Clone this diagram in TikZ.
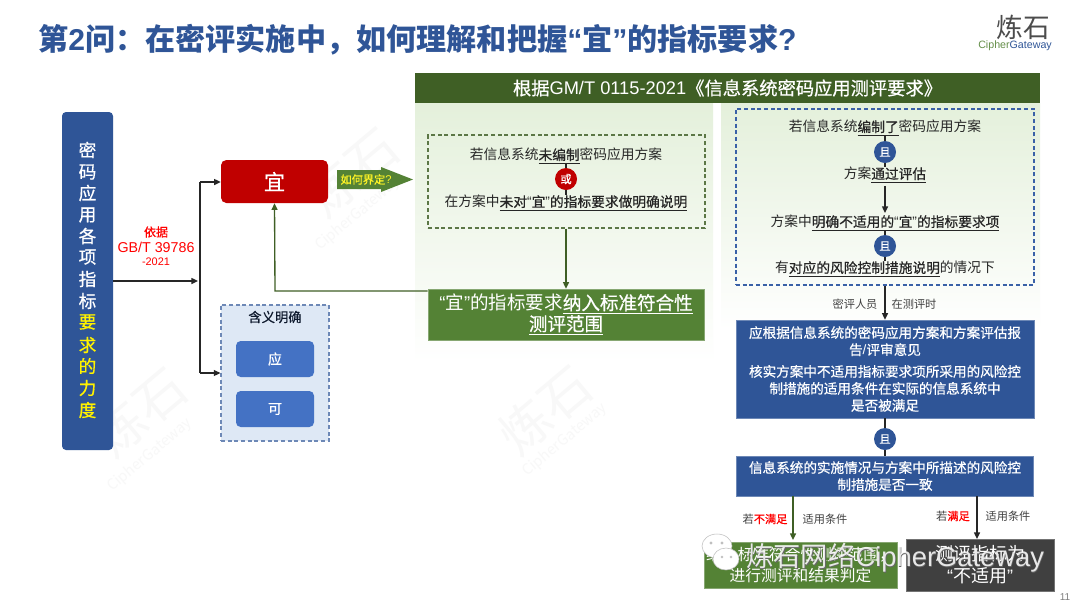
\documentclass[tikz,border=0pt]{standalone}
\usepackage{fontspec}
\setmainfont{Noto Sans CJK SC}
\newfontfamily\latf{Liberation Sans}
\newfontfamily\medf[FakeBold=0.7]{Noto Sans CJK SC}
\usetikzlibrary{arrows.meta,shapes.geometric,calc}
\definecolor{navy}{HTML}{2F5597}
\definecolor{titleblue}{HTML}{2F5597}
\definecolor{red1}{HTML}{C00000}
\definecolor{grn}{HTML}{548235}
\definecolor{dgrn}{HTML}{3F5F25}
\definecolor{paleg}{HTML}{E4F0DB}
\definecolor{pblue}{HTML}{DEE8F5}
\definecolor{mblue}{HTML}{4472C4}
\definecolor{ink}{HTML}{262626}
\definecolor{wm}{HTML}{F8F8F8}
\newcommand\fsz[1]{\fontsize{#1}{#1}\selectfont}
\newcommand\LQ{{\latf “}}
\newcommand\RQ{{\latf ”}}
\newcommand\ub[1]{\underline{\medf #1}}
\tikzset{
  x=0.75pt,y=-0.75pt,
  txt/.style={inner sep=0pt,text=ink,font=\fsz{10.3}},
  small/.style={inner sep=0pt,text=black!75,font=\fsz{8.4}},
  boxb/.style={inner sep=0pt,text=white,align=center,fill=navy,draw=navy!70,line width=0.4pt},
  rbox/.style={inner sep=0pt,rounded corners=3.5pt,text=white},
  circ/.style={circle,inner sep=0pt,minimum size=16.5pt,text=white,font=\fsz{8.5}\medf},
  conn/.style={draw=ink,line width=1pt},
  arr/.style={conn,-{Triangle[length=5pt,width=4.5pt]}},
  garr/.style={arr,draw=dgrn,-{Triangle[length=5pt,width=4.5pt,fill=dgrn]}},
  wmark/.style={inner sep=0pt,text=wm,rotate=40},
  dashbox/.style={inner sep=0pt,line width=0.85pt,dash pattern=on 3pt off 2pt},
}
\begin{document}
\begin{tikzpicture}
\useasboundingbox (0,0) rectangle (1080,608);
\fill[white] (0,0) rectangle (1080,608);
% panels
\shade[top color=paleg,bottom color=white] (415,103) rectangle (713,362);
\shade[top color=paleg,bottom color=white] (721,103) rectangle (1040,330);
% watermarks
\node[wmark,font=\fsz{38}] (wm1) at (352,172) {炼石};
\node[wmark,font=\fsz{11}] (wm1b) at (358,214) {CipherGateway};
\node[wmark,font=\fsz{38}] (wm2) at (140,412) {炼石};
\node[wmark,font=\fsz{11}] (wm2b) at (150,455) {CipherGateway};
\node[wmark,font=\fsz{38}] (wm3) at (545,410) {炼石};
\node[wmark,font=\fsz{11}] (wm3b) at (565,440) {CipherGateway};
% title and logo
\node[inner sep=0pt,anchor=west,text=titleblue,font=\fsz{22.6}\bfseries] (title) at (38,40)
  {第{\latf 2}问：在密评实施中，如何理解和把握\LQ 宜\RQ 的指标要求{\latf ?}};
\node[inner sep=0pt,text=black!70,font=\fsz{20}] (logo) at (1023,27) {炼石};
\node[inner sep=0pt,font=\latf\fsz{8}] (logob) at (1015,46) {\textcolor{grn!90}{Cipher}\textcolor{navy}{Gateway}};
% left bar
\node[rbox,fill=navy,minimum width=38.25pt,minimum height=253.5pt,rounded corners=3pt] (bar) at (87.5,281) {};
\foreach \ch/\yy/\cc in {密/150/white,码/172/white,应/193/white,用/215/white,各/236/white,项/257/white,指/279/white,标/301/white,要/322/yellow,求/345/yellow,的/366/yellow,力/388/yellow,度/410/yellow}
  \node[inner sep=0pt,text=\cc,font=\fsz{13.2}\medf] at (87.5,\yy) {\ch};
% 宜
\node[rbox,fill=red1,minimum width=80.25pt,minimum height=32.25pt,font=\fsz{16}\medf,rounded corners=4pt] (yi) at (274.5,181.5) {宜};
% 含义明确
\node[dashbox,draw=navy!70!white,fill=pblue,minimum width=81pt,minimum height=102pt] (clear) at (275,373) {};
\node[inner sep=0pt,text=black!70!navy,font=\fsz{10}\medf] (cleart) at (275,317) {含义明确};
\node[rbox,fill=mblue,minimum width=58.5pt,minimum height=27pt,font=\fsz{10.5}\medf] (ying) at (275,359) {应};
\node[rbox,fill=mblue,minimum width=58.5pt,minimum height=27pt,font=\fsz{10.5}\medf] (ke) at (275,409) {可};
% trunk
\coordinate (jn) at (200,281);
\coordinate (jt) at (200,182);
\coordinate (jb) at (200,373);
\draw[arr] (bar.east |- jn) -- (198,281);
\draw[conn] (jt) -- (jb);
\draw[arr] (jt) -- (yi.west |- jt);
\draw[arr] (jb) -- (clear.west |- jb);
\node[inner sep=0pt,text=red,font=\fsz{9}\medf] (yj) at (156,232) {依据};
\node[inner sep=0pt,text=red,font=\latf\fsz{10.7}] (gb) at (156,247) {GB/T 39786};
\node[inner sep=0pt,text=red,font=\latf\fsz{8.2}] (gby) at (156,262) {-2021};
% block arrow
\fill[grn] (337,170) -- (381,170) -- (381,167) -- (413,179.5) -- (381,192) -- (381,189) -- (337,189) -- cycle;
\node[inner sep=0pt,text=yellow!85!white,font=\fsz{8.4}\medf] (how) at (366,179.5) {如何界定{\latf ?}};
% header
\node[inner sep=0pt,fill=dgrn,minimum width=468.75pt,minimum height=22.5pt,text=white,font=\fsz{13.7}\medf] (hdr) at (727.5,88)
  {根据{\latf GM/T 0115-2021}《信息系统密码应用测评要求》};
% left condition
\node[dashbox,draw=dgrn!85,minimum width=207.75pt,minimum height=69.75pt] (lbox) at (566.5,181.5) {};
\node[txt] (l1) at (566,156) {若信息系统\ub{未编制}密码应用方案};
\node[txt] (l2) at (566,203) {在方案中\ub{未对\LQ 宜\RQ 的指标要求做明确说明}};
\draw[conn] (l1.south) -- (l2.north);
\node[circ,fill=red1] (or) at (566,179) {或};
\node[inner sep=0pt,fill=grn,draw=grn!70,line width=0.4pt,minimum width=207pt,minimum height=38.25pt,text=white,align=center,font=\fontsize{13.9}{15.75pt}\selectfont] (res) at (566,314.5)
  {\LQ 宜\RQ 的指标要求\ub{纳入标准符合性}\\\ub{测评范围}};
\draw[garr] (lbox.south -| res) -- (res.north);
\coordinate (ret) at (275,291);
\draw[garr] (res.west |- ret) -- (ret) -- (yi.south);
% right condition
\node[dashbox,draw=mblue!85!black,minimum width=223.5pt,minimum height=132pt] (rbox) at (885,197) {};
\node[txt] (r1) at (885,128) {若信息系统\ub{编制了}密码应用方案};
\node[txt] (r2) at (885,175) {方案\ub{通过评估}};
\node[txt] (r3) at (885,223) {方案中\ub{明确不适用的\LQ 宜\RQ 的指标要求项}};
\node[txt] (r4) at (885,269) {有\ub{对应的风险控制措施说明}的情况下};
\draw[conn] (r1.south) -- (r2.north);
\draw[arr] ($(r2.south)+(0,3)$) -- ($(r3.north)+(0,-2)$);
\draw[conn] (r3.south) -- (r4.north);
\node[circ,fill=navy] (and1) at (885,152) {且};
\node[circ,fill=navy] (and2) at (885,246) {且};
% blue boxes
\node[boxb,minimum width=223.5pt,minimum height=73.5pt,font=\fontsize{10.2}{12.75pt}\selectfont\medf] (b1) at (885,369)
  {应根据信息系统的密码应用方案和方案评估报\\告{\latf /}评审意见\\[3.6pt]核实方案中不适用指标要求项所采用的风险控\\制措施的适用条件在实际的信息系统中\\是否被满足};
\node[boxb,minimum width=223pt,minimum height=30pt,font=\fontsize{10.2}{12.75pt}\selectfont\medf] (b2) at (885,476)
  {信息系统的实施情况与方案中所描述的风险控\\制措施是否一致};
\draw[arr] ($(r4.south)+(0,9)$) -- (b1.north);
\node[small] (s1) at (855,304) {密评人员};
\node[small] (s2) at (914,304) {在测评时};
\draw[conn] (b1.south) -- (b2.north);
\node[circ,fill=navy] (and3) at (885,439) {且};
% outcomes
\node[inner sep=0pt,fill=grn,draw=grn!70,line width=0.4pt,minimum width=144.75pt,minimum height=34.5pt,text=white,align=center,font=\fontsize{11.8}{15.5pt}\selectfont] (out1) at (800.5,565)
  {纳入标准符合性测评范围，\\进行测评和结果判定};
\node[inner sep=0pt,fill=black!75,draw=black!55,line width=0.4pt,minimum width=111pt,minimum height=39pt,text=white,align=center,font=\fontsize{13.5}{16.5pt}\selectfont] (out2) at (980,565)
  {测评指标为\\\LQ 不适用\RQ};
\coordinate (o1) at (793,540);
\coordinate (o2) at (977,539);
\draw[garr] (b2.south -| o1) -- (o1);
\draw[arr] (b2.south -| o2) -- (o2);
\node[small] (c1) at (765,519) {若\textcolor{red}{\medf 不满足}};
\node[small] (c2) at (825,519) {适用条件};
\node[small] (c3) at (953,516) {若\textcolor{red}{\medf 满足}};
\node[small] (c4) at (1008,516) {适用条件};
\node[inner sep=0pt,text=black!50,font=\latf\fsz{7.5}] (pg) at (1065,597) {11};
% overlay signature
\fill[white,draw=black!25,line width=0.4pt] (717,546) ellipse (15 and 12);
\fill[white,draw=black!25,line width=0.4pt] (726,559) ellipse (13 and 11);
\fill[black!25] (711,543) circle (1.6) (722,543) circle (1.6) (722,557) circle (1.4) (731,557) circle (1.4);
\node[inner sep=0pt,anchor=west,text=black!60,font=\fontsize{20.5}{20.5}\selectfont] (sigs) at (746.6,559)
  {炼石网络{\latf CipherGateway}};
\node[inner sep=0pt,anchor=west,text=white,opacity=0.85,font=\fontsize{20.5}{20.5}\selectfont] (sig) at (746,558)
  {炼石网络{\latf CipherGateway}};
\end{tikzpicture}
\end{document}
